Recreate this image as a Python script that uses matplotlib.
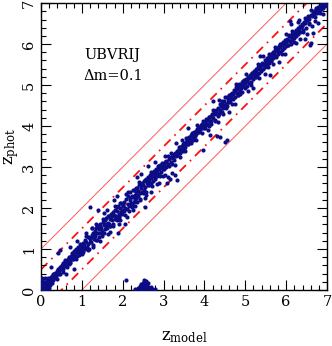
import matplotlib
matplotlib.use("Agg")
import matplotlib.pyplot as plt
from matplotlib.ticker import MultipleLocator

plt.rcParams['font.family'] = ['DejaVu Serif']
plt.rcParams['mathtext.fontset'] = 'dejavuserif'
plt.rcParams['lines.scale_dashes'] = False

# ---- data: main band (set 1) ----
band_model = [
    0.00,0.01,0.02,0.03,0.04,0.05,0.06,0.07,0.08,0.10,
    0.11,0.12,0.13,0.14,0.15,0.16,0.17,0.18,0.19,0.20,
    0.00,0.02,0.04,0.06,0.08,0.09,0.12,0.15,0.21,0.22,
    0.24,0.25,0.27,0.28,0.30,0.31,0.33,0.35,0.36,0.38,
    0.40,0.41,0.43,0.45,0.46,0.48,0.50,0.03,0.01,0.05,
    0.52,0.54,0.55,0.57,0.58,0.60,0.62,0.63,0.65,0.66,
    0.68,0.70,0.71,0.73,0.75,0.76,0.78,0.80,0.81,0.83,
    0.85,0.86,0.88,0.90,0.91,0.93,0.95,0.96,0.98,1.00,
    0.42,0.60,0.72,0.88,
    1.01,1.03,1.04,1.06,1.08,1.09,1.11,1.12,1.14,1.16,
    1.17,1.19,1.20,1.22,1.24,1.25,1.27,1.28,1.30,1.32,
    1.33,1.35,1.36,1.38,1.40,1.41,1.43,1.45,1.46,1.48,
    1.50,1.51,1.53,1.55,1.56,1.58,1.60,1.61,1.63,1.65,
    1.66,1.68,1.70,1.71,1.73,1.75,1.76,1.78,1.80,1.81,
    1.83,1.85,1.86,1.88,1.90,1.91,1.93,1.95,1.96,1.98,
    1.10,1.25,1.45,1.62,1.78,1.92,1.35,1.55,1.70,1.85,
    2.00,2.02,2.03,2.05,2.07,2.08,2.10,2.12,2.13,2.15,
    2.17,2.18,2.20,2.22,2.23,2.25,2.27,2.28,2.30,2.32,
    2.33,2.35,2.37,2.38,2.40,2.42,2.43,2.45,2.47,2.48,
    2.50,2.52,2.53,2.55,2.57,2.58,2.60,2.62,2.63,2.65,
    2.67,2.68,2.70,2.72,2.73,2.75,2.77,2.78,2.80,2.82,
    2.83,2.85,2.87,2.88,2.90,2.92,2.93,2.95,2.97,2.98,
    2.10,2.25,2.35,2.55,2.70,2.88,2.45,2.62,2.30,2.78,
    3.00,3.02,3.04,3.05,3.07,3.09,3.10,3.12,3.14,3.15,
    3.17,3.19,3.20,3.22,3.24,3.25,3.27,3.29,3.30,3.32,
    3.34,3.35,3.37,3.39,3.40,3.42,3.44,3.45,3.47,3.49,
    3.50,3.52,3.54,3.55,3.57,3.59,3.60,3.62,3.64,3.65,
    3.67,3.69,3.70,3.72,3.74,3.75,3.77,3.79,3.80,3.82,
    3.84,3.85,3.87,3.89,3.90,3.92,3.94,3.95,3.97,3.99,
    4.00,4.02,4.04,4.05,4.07,4.09,4.10,4.12,4.14,4.15,
    4.17,4.19,4.20,4.22,4.24,4.25,4.27,4.29,4.30,4.32,
    4.34,4.35,4.37,4.39,4.40,4.42,4.44,4.45,4.47,4.49,
    4.50,4.52,4.54,4.55,4.57,4.59,4.60,4.62,4.64,4.65,
    4.67,4.69,4.70,4.72,4.74,4.75,4.77,4.79,4.80,4.82,
    4.84,4.85,4.87,4.89,4.90,4.92,4.94,4.95,4.97,4.99,
    5.00,5.02,5.04,5.05,5.07,5.09,5.10,5.12,5.14,5.15,
    5.17,5.19,5.20,5.22,5.24,5.25,5.27,5.29,5.30,5.32,
    5.34,5.35,5.37,5.39,5.40,5.42,5.44,5.45,5.47,5.49,
    5.50,5.52,5.54,5.55,5.57,5.59,5.60,5.62,5.64,5.65,
    5.67,5.69,5.70,5.72,5.74,5.75,5.77,5.79,5.80,5.82,
    5.84,5.85,5.87,5.89,5.90,5.92,5.94,5.95,5.97,5.99,
    6.00,6.02,6.04,6.05,6.07,6.09,6.10,6.12,6.14,6.15,
    6.17,6.19,6.20,6.22,6.24,6.25,6.27,6.29,6.30,6.32,
    6.34,6.35,6.37,6.39,6.40,6.42,6.44,6.45,6.47,6.49,
    6.50,6.52,6.54,6.55,6.57,6.59,6.60,6.62,6.64,6.65,
    6.67,6.69,6.70,6.72,6.74,6.75,6.77,6.79,6.80,6.82,
    6.84,6.85,6.87,6.89,6.90,6.92,6.94,6.95,6.97,6.99,
]
band_phot = [
    0.02,0.10,0.05,0.15,0.00,0.08,0.12,0.03,0.18,0.06,
    0.20,0.10,0.02,0.16,0.25,0.09,0.14,0.22,0.05,0.17,
    0.18,0.24,0.12,0.01,0.11,0.28,0.06,0.12,0.26,0.13,
    0.20,0.32,0.25,0.35,0.24,0.40,0.30,0.42,0.33,0.46,
    0.38,0.52,0.47,0.40,0.55,0.50,0.56,0.30,0.05,0.20,
    0.62,0.50,0.66,0.58,0.72,0.64,0.70,0.56,0.76,0.68,
    0.80,0.72,0.66,0.84,0.78,0.90,0.76,0.86,0.95,0.80,
    0.92,1.00,0.84,0.98,1.06,0.92,1.02,1.12,0.94,1.08,
    0.90,0.38,1.05,1.20,
    1.00,1.15,0.92,1.10,1.22,1.02,1.18,1.05,1.28,1.12,
    1.00,1.25,2.02,1.16,1.35,1.30,1.10,1.40,1.24,1.45,
    1.32,1.50,1.22,1.40,1.55,1.30,1.48,1.62,1.38,1.52,
    1.44,1.66,1.58,1.40,1.70,1.56,1.75,1.50,1.64,1.80,
    1.60,1.72,1.55,1.85,1.70,1.90,1.62,1.82,1.74,1.96,
    1.80,1.70,1.92,2.05,1.85,1.78,2.00,1.90,2.12,1.95,
    1.38,1.52,1.20,1.95,2.20,1.62,1.62,1.88,1.42,2.30,
    2.08,1.92,2.15,2.00,2.22,0.24,1.98,2.10,2.30,2.05,
    2.20,2.38,2.12,2.30,2.02,2.26,2.45,2.15,2.32,2.40,
    2.25,2.50,2.30,2.42,2.55,2.36,2.20,2.48,2.60,2.40,
    2.56,2.45,2.66,2.52,2.70,2.40,2.62,2.75,2.55,2.68,
    2.80,2.60,2.72,2.85,2.66,2.78,2.90,2.70,2.84,2.95,
    2.78,2.90,3.02,2.82,2.96,3.05,2.88,3.00,3.10,2.95,
    1.78,1.95,2.75,2.25,2.38,2.62,2.82,3.02,2.05,3.12,
    3.05,2.96,3.12,3.02,3.15,2.60,3.08,2.75,3.20,2.70,
    3.12,3.25,2.85,3.22,3.30,3.18,3.35,2.80,3.28,2.68,
    3.40,3.30,3.45,3.35,3.50,3.38,3.52,3.42,3.55,3.45,
    3.58,3.48,3.62,3.55,3.65,3.55,3.70,3.60,3.72,3.62,
    3.78,3.66,3.75,3.82,3.70,3.85,3.76,3.88,3.80,3.92,
    3.85,3.95,3.88,3.98,3.92,4.02,3.95,4.05,4.00,4.08,
    3.95,4.10,4.02,4.18,4.05,4.15,4.00,4.22,4.10,4.25,
    4.12,4.30,4.62,4.20,4.35,4.15,4.30,4.40,3.76,4.25,
    4.45,4.30,4.55,4.38,4.50,4.35,4.60,4.45,4.52,4.62,
    3.60,4.55,4.70,4.48,4.65,4.58,4.75,4.60,4.72,4.68,
    4.80,4.65,4.78,4.88,4.70,4.85,4.95,4.80,4.90,4.75,
    4.95,5.02,4.85,5.00,4.92,5.08,4.98,5.05,5.12,4.95,
    5.05,5.15,4.98,5.10,5.20,5.05,5.18,5.25,5.08,5.20,
    5.30,5.15,5.28,5.35,5.20,5.32,5.40,5.25,5.38,5.45,
    5.30,5.42,5.50,5.35,5.48,5.55,5.40,5.52,5.60,5.45,
    5.58,5.65,5.50,5.62,5.70,5.55,5.68,5.75,5.60,5.72,
    5.80,5.65,5.75,5.85,5.70,5.82,5.90,5.75,5.88,5.95,
    5.80,5.92,6.00,5.85,5.98,6.05,5.90,6.02,6.10,5.95,
    6.05,6.12,5.98,6.10,6.20,6.56,6.08,6.18,6.25,6.10,
    6.22,6.30,6.15,6.28,6.35,6.20,6.32,6.40,6.25,6.38,
    6.45,6.30,6.42,6.50,6.35,6.48,6.55,6.12,6.52,6.60,
    6.24,6.58,6.65,6.50,6.62,5.98,6.70,6.02,6.68,6.75,
    6.72,6.80,6.65,6.78,6.85,6.75,6.82,6.90,6.80,6.88,
    6.92,6.85,6.95,6.88,6.98,6.92,7.00,6.96,6.99,6.94,
]

# ---- data: main band (set 2) ----
band2_model = [
    0.02,0.05,0.09,0.12,0.16,0.19,0.23,0.26,0.30,0.33,0.37,0.40,0.44,0.47,0.51,0.54,0.58,0.61,0.65,0.68,
    0.72,0.75,0.79,0.82,0.86,0.89,0.93,0.96,1.00,1.03,1.07,1.10,1.14,1.17,1.21,1.24,1.28,1.31,1.35,1.38,
    1.42,1.45,1.49,1.52,1.56,1.59,1.63,1.66,1.70,1.73,1.77,1.80,1.84,1.87,1.91,1.94,1.98,2.01,2.05,2.08,
    2.12,2.15,2.19,2.22,2.26,2.29,2.33,2.36,2.40,2.43,2.47,2.50,2.54,2.57,2.61,2.64,2.68,2.71,2.75,2.78,
    2.82,2.85,2.89,2.92,2.96,2.99,3.03,3.06,3.10,3.13,3.17,3.20,3.24,3.27,3.31,3.34,3.38,3.41,3.45,3.48,
    3.52,3.55,3.59,3.62,3.66,3.69,3.73,3.76,3.80,3.83,3.87,3.90,3.94,3.97,4.01,4.04,4.08,4.11,4.15,4.18,
    4.22,4.25,4.29,4.32,4.36,4.39,4.43,4.46,4.50,4.53,4.57,4.60,4.64,4.67,4.71,4.74,4.78,4.81,4.85,4.88,
    4.92,4.95,4.99,5.02,5.06,5.09,5.13,5.16,5.20,5.23,5.27,5.30,5.34,5.37,5.41,5.44,5.48,5.51,5.55,5.58,
    5.62,5.65,5.69,5.72,5.76,5.79,5.83,5.86,5.90,5.93,5.97,6.00,6.04,6.07,6.11,6.14,6.18,6.21,6.25,6.28,
    6.32,6.35,6.39,6.42,6.46,6.49,6.53,6.56,6.60,6.63,6.67,6.70,6.74,6.77,6.81,6.84,6.88,6.91,6.95,6.98,
]
band2_phot = [
    0.11,0.00,0.12,0.01,0.29,0.17,0.28,0.18,0.40,0.29,0.38,0.27,0.51,0.40,0.55,0.44,0.70,0.58,0.73,0.63,
    0.67,0.83,0.76,0.94,0.76,0.93,0.86,1.03,0.87,1.04,0.99,1.31,0.97,1.28,1.18,1.51,1.06,1.36,1.23,1.56,
    1.39,1.56,1.32,1.73,1.48,1.61,1.37,1.80,1.56,1.81,1.57,2.04,1.79,2.03,1.81,2.12,1.86,2.06,1.83,2.35,
    2.39,1.93,2.24,2.10,2.44,2.19,2.49,2.31,2.64,2.23,2.55,2.36,2.68,2.31,2.63,2.56,2.89,2.54,2.86,2.75,
    2.84,2.59,3.03,2.78,3.04,2.79,3.27,3.01,3.26,3.03,3.35,3.08,3.29,3.05,3.58,3.31,3.49,3.24,3.66,3.40,
    3.38,3.72,3.55,3.73,3.59,3.82,3.65,3.80,3.65,4.02,3.85,3.98,3.82,4.12,3.95,4.05,3.90,4.21,4.05,4.24,
    4.40,4.13,4.34,4.10,4.63,4.36,4.54,4.29,4.71,4.45,4.59,4.34,4.78,4.53,4.79,4.54,5.02,4.76,5.01,4.78,
    4.82,5.11,4.94,5.26,4.86,5.17,4.99,5.30,4.94,5.25,5.19,5.51,5.17,5.48,5.38,5.71,5.26,5.56,5.43,5.76,
    5.59,5.76,5.52,5.93,5.68,5.81,5.57,6.00,5.76,6.01,5.77,6.24,5.99,6.23,6.01,6.32,6.06,6.26,6.03,6.55,
    6.59,6.13,6.44,6.30,6.64,6.39,6.69,6.51,6.84,6.43,6.75,6.56,6.88,6.51,6.83,6.76,6.99,6.74,6.97,6.95,
]

# ---- data: scattered outliers ----
outlier_model = [0.46,1.39,1.88,1.93,2.34,2.54,3.03,3.96,4.13,4.38,4.54,6.13,6.65,
                 2.05,5.60,5.35,3.60,0.25,0.80]
outlier_phot = [0.98,1.95,1.39,1.71,2.15,2.03,2.80,3.41,3.78,3.74,3.66,6.50,6.27,
                1.62,5.25,5.72,3.95,0.55,0.52]

# ---- data: catastrophic low-z cluster ----
cluster_model = [2.30,2.38,2.42,2.45,2.48,2.50,2.52,2.53,2.55,2.57,2.58,2.60,2.62,
                 2.65,2.68,2.72,2.78,2.45,2.50,2.55,2.60,2.48,2.52,2.56,2.63]
cluster_phot = [0.02,0.05,0.10,0.15,0.08,0.18,0.12,0.20,0.05,0.14,0.22,0.10,0.16,
                0.04,0.08,0.02,0.03,0.02,0.06,0.12,0.01,0.00,0.24,0.17,0.06]

z_range = [0, 7]
ticks = [0, 1, 2, 3, 4, 5, 6, 7]
annot_lines = ["UBVRIJ", "\u0394m=0.1"]

fig = plt.figure(figsize=(3.32, 3.46), dpi=100)
ax = fig.add_axes([0.1235, 0.162, 0.8615, 0.829])

# reference lines
ax.plot(z_range, [z + 1 for z in z_range], color='#ff5a5a', lw=0.7, zorder=1)
ax.plot(z_range, [z - 1 for z in z_range], color='#ff5a5a', lw=0.7, zorder=1)
ax.plot(z_range, [z + 0.5 for z in z_range], color='#ff1010', lw=1.3,
        dashes=(6.5, 4, 1.2, 4), zorder=1)
ax.plot(z_range, [z - 0.5 for z in z_range], color='#ff1010', lw=1.3,
        dashes=(6.5, 4, 1.2, 4), zorder=1)
ax.plot(z_range, z_range, color='#ff1010', lw=1.2, dashes=(1.2, 6), zorder=1)

# points
pt_color = '#0c0c86'
for xs, ys in [(band_model, band_phot), (band2_model, band2_phot),
               (outlier_model, outlier_phot), (cluster_model, cluster_phot)]:
    ax.scatter(xs, ys, s=9, color=pt_color, linewidths=0, zorder=3)

ax.set_xlim(*z_range)
ax.set_ylim(*z_range)
ax.set_xticks(ticks)
ax.set_yticks(ticks)
ax.xaxis.set_minor_locator(MultipleLocator(0.2))
ax.yaxis.set_minor_locator(MultipleLocator(0.2))
ax.tick_params(which='both', direction='in', top=True, right=True, width=0.8)
ax.tick_params(which='major', length=7, labelsize=10.5)
ax.tick_params(which='minor', length=3.5)
for lab in ax.get_yticklabels():
    lab.set_rotation(90)
    lab.set_va('center')
for s in ax.spines.values():
    s.set_linewidth(1.0)

ax.set_xlabel(r'$\mathrm{z_{model}}$', fontsize=12, labelpad=14)
ax.set_ylabel(r'$\mathrm{z_{phot}}$', fontsize=12)
ax.yaxis.set_label_coords(-0.07, 0.5)

ax.text(0.15, 0.82, annot_lines[0], transform=ax.transAxes, fontsize=10.5,
        va='center', ha='left')
ax.text(0.15, 0.745, annot_lines[1], transform=ax.transAxes, fontsize=10.5,
        va='center', ha='left')

fig.savefig('out.png', dpi=100)
